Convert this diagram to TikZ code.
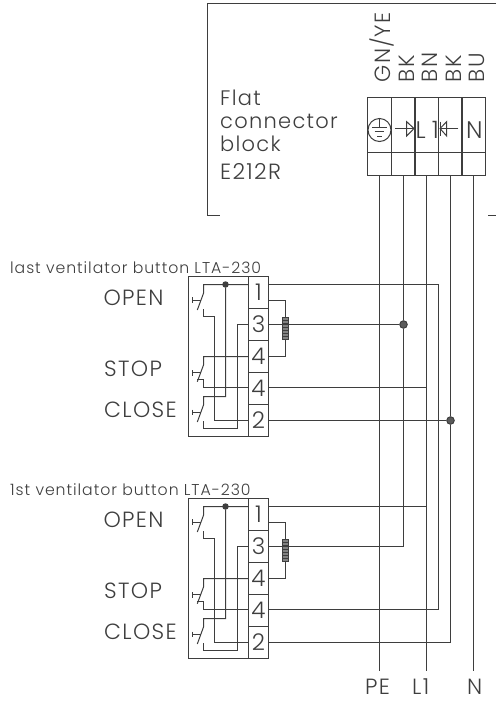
\documentclass[tikz,border=0pt]{standalone}
\usepackage{fontspec}
\setmainfont{Poppins Light}[LetterSpace=6]
\usepackage{tikz}
\usetikzlibrary{positioning}
\usetikzlibrary{calc}
\definecolor{ink}{HTML}{3E3E3E}
\tikzstyle{wire} = [draw,ink,line width=1pt]
\tikzstyle{blockcell} = [draw,ink,line width=1pt,rectangle,inner sep=0pt,minimum width=23.5pt]
\tikzstyle{terminal} = [draw,ink,line width=1pt,rectangle,inner sep=0pt,minimum width=20pt,minimum height=32pt,text=ink,font=\fontsize{23}{23}\selectfont]
\tikzstyle{txt} = [anchor=base west,inner sep=0pt,text=ink]
\tikzstyle{bigtxt} = [txt,font=\fontsize{22}{22}\selectfont]
\tikzstyle{flattxt} = [txt,font=\fontsize{21}{21}\selectfont]
\tikzstyle{junction} = [circle,draw=ink,fill=ink!85,line width=1pt,inner sep=0pt,minimum size=7.5pt]
\tikzstyle{solder} = [circle,fill=ink,inner sep=0pt,minimum size=6.5pt]

\begin{document}
\begin{tikzpicture}[x=1pt,y=-1pt]
 \useasboundingbox (0,0) rectangle (496,702);

 % housing
 \path[wire] (496,3.5) -- (207.5,3.5) -- (207.5,215.5) -- (220,215.5);
 \path[wire] (488.3,215.5) -- (496,215.5);
 \node[flattxt] (flat) at (220,105) {Flat};
 \node[flattxt] (conn) at (220,128) {connector};
 \node[flattxt] (blk) at (220,151) {block};
 \node[bigtxt] (type) at (220,179) {E212R};

 % connector block
 \foreach \n/\x/\lab in {pe/379.5/GN\slash YE, sw1/403.5/BK, li/426.5/BN, sw2/450.5/BK, ne/473.5/BU}{
   \node[blockcell,minimum height=55pt] (\n) at (\x,125) {};
   \node[blockcell,minimum height=23pt] (\n b) at (\x,164) {};
   \node[bigtxt,rotate=90] (\n lab) at (\x+11,82.5) {\lab};
 }

 % earth, diodes
 \node[circle,draw=ink,line width=1pt,inner sep=0pt,minimum size=23pt] (earth) at (379.5,130) {};
 \path[wire] (379.5,118.5) -- (379.5,127);
 \path[wire] (372,127.5) -- (386.6,127.5);
 \path[wire] (374.5,131.5) -- (384,131.5);
 \path[wire] (377,136) -- (381.6,136);
 \path[wire] (395,128.5) -- (414,128.5);
 \path[wire] (406.7,121.7) -- (406.7,136) -- (414,128.5) -- cycle;
 \path[wire] (414,121.7) -- (414,136);
 \path[wire] (458.3,128.5) -- (440,128.5);
 \path[wire] (446.7,121.7) -- (446.7,136) -- (440,128.5) -- cycle;
 \path[wire] (440,121.7) -- (440,136);
 \node[txt,font=\fontsize{24}{24}\selectfont] (lone) at (415.5,138) {L\hspace{6pt}1};
 \node[txt,font=\fontsize{24}{24}\selectfont] (nlab) at (466,138) {N};

 % the two buttons
 \foreach \m/\dy/\name in {u/0/last, l/222/1st}{
 \begin{scope}[yshift=-\dy pt]
   \node[txt,font=\fontsize{15.7}{16}\selectfont] (\m title) at (10,273.3) {\name\ ventilator button LTA-230};
   \node[bigtxt] (\m open) at (103.3,305.7) {OPEN};
   \node[bigtxt] (\m stop) at (104,376.7) {STOP};
   \node[bigtxt] (\m close) at (104,417.7) {CLOSE};

   \node[draw=ink,line width=1pt,rectangle,inner sep=0pt,minimum width=60pt,minimum height=160pt] (\m box) at (218.5,356.5) {};
   \node[terminal] (\m t1) at (258.5,292.5) {1};
   \node[terminal] (\m t3) at (258.5,324.5) {3};
   \node[terminal] (\m t4) at (258.5,356.5) {4};
   \node[terminal] (\m t5) at (258.5,388.5) {4};
   \node[terminal] (\m t2) at (258.5,420.5) {2};

   % right ends of the terminals
   \coordinate (\m a1) at (248.5,284.5);
   \coordinate (\m b1) at (268.5,284.5);
   \coordinate (\m b3) at (268.5,324.5);
   \coordinate (\m a3) at (248.5,324.5);
   \coordinate (\m a4) at (248.5,356.5);
   \coordinate (\m b4) at (268.5,356.5);
   \coordinate (\m a5) at (248.5,387.5);
   \coordinate (\m b5) at (268.5,387.5);
   \coordinate (\m a2) at (248.5,420.5);
   \coordinate (\m b2) at (268.5,420.5);
   \coordinate (\m b0) at (268.5,300.5);

   % open
   \path[wire] (\m a1) -- (203.5,284.5) -- (203.5,293.3) -- (197.3,310);
   \path[wire] (192.7,300.5) -- (200.5,300.5);
   \path[wire] (192.5,297.2) -- (192.5,302.8);
   \path[wire] (203.5,309) -- (203.5,316.5) -- (214.5,316.5) -- (214.5,420.5) -- (\m a2);
   \node[solder] (\m dot) at (225.5,284.5) {};
   \path[wire] (\m dot) -- (225.5,396.5) -- (203.5,396.5) -- (203.5,405) -- (197.3,422);
   % stop
   \path[wire] (\m a4) -- (203.5,356.5) -- (203.5,365) -- (197.3,381.7);
   \path[wire] (192.7,372.5) -- (200.5,372.5);
   \path[wire] (192.5,370) -- (192.5,375.5);
   \path[wire] (197.3,379.5) -- (203.5,379.5) -- (203.5,387.5) -- (\m a5);
   % close
   \path[wire] (192.7,412.5) -- (200.5,412.5);
   \path[wire] (192.5,409.5) -- (192.5,415);
   \path[wire] (203.5,421) -- (203.5,428.5) -- (237.5,428.5) -- (237.5,324.5) -- (\m a3);

   % resistor
   \path[wire] (\m b0) -- (285.5,300.5) -- (285.5,356.5) -- (\m b4);
   \node[draw=ink,fill=ink!65,line width=1pt,rectangle,inner sep=0pt,minimum width=6.5pt,minimum height=21.6pt] (\m res) at (285.5,328.5) {};
   \foreach \k in {0,1,2,3,4,5}{
     \path[draw,ink,line width=0.6pt] (282.3,320.5+3.2*\k) -- (288.7,320.5+3.2*\k);
   }
 \end{scope}
 }

 % network
 \coordinate (peend) at (379.5,670.7);
 \coordinate (liend) at (426.5,670.7);
 \coordinate (neend) at (473.5,670.7);
 \coordinate (swcor) at (403.5,546.5);
 \coordinate (clcor) at (450.5,642.5);
 \coordinate (opcor) at (438.5,609.5);
 \node[junction] (jthree) at (403.5,324.5) {};
 \node[junction] (jtwo) at (450.5,420.5) {};
 \path[wire] (peb.south) -- (peend);
 \path[wire] (lib.south) -- (liend);
 \path[wire] (neb.south) -- (neend);
 \path[wire] (sw1b.south) -- (jthree);
 \path[wire] (jthree) -- (swcor) -- (lb3);
 \path[wire] (sw2b.south) -- (jtwo);
 \path[wire] (jtwo) -- (clcor) -- (lb2);
 \path[wire] (ub3) -- (jthree);
 \path[wire] (ub2) -- (jtwo);
 \path[wire] (ub1) -| (opcor) -- (lb5);
 \path[wire] (ub5) -| (lib.south);
 \path[wire] (lb1) -| (liend);

 \node[bigtxt] (pelab) at (365,694.5) {PE};
 \node[bigtxt] (lilab) at (412,694.5) {L1};
 \node[bigtxt] (nelab) at (467,694.5) {N};
\end{tikzpicture}
\end{document}
